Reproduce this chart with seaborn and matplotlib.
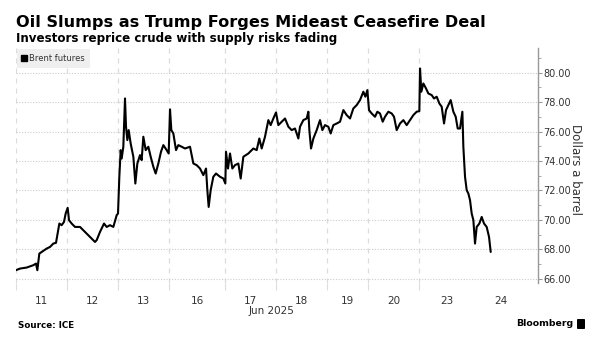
import numpy as np
import pandas as pd
import matplotlib
matplotlib.use("Agg")
import matplotlib.pyplot as plt
import seaborn as sns
from matplotlib.ticker import FixedLocator, MultipleLocator, FuncFormatter
from matplotlib.lines import Line2D
from matplotlib.patches import FancyBboxPatch

# ---- data -------------------------------------------------------------
day_labels = ["11", "12", "13", "16", "17", "18", "19", "20", "23", "24"]
session_hours = [22, 22, 22, 24, 22, 22, 17.5, 22, 24, 22]

# trading-session hours since the open of 11 Jun
hours = [0.0, 1.72, 4.59, 7.46, 8.61, 9.18, 10.04, 11.04, 13.20, 14.63, 16.06, 17.21,
         18.65, 19.65, 20.65, 21.37, 22.23, 22.81, 23.95, 25.39, 27.54, 29.69, 31.84,
         33.99, 34.71, 36.14, 37.87, 39.01, 40.45, 41.88, 43.32, 43.89,
         44.46, 45.04, 45.47, 46.18, 46.90, 47.33, 47.91, 48.48, 49.34, 50.49, 51.35,
         52.21, 53.36, 54.07, 54.79, 55.80, 56.94, 57.95, 59.09, 60.10, 61.24, 62.39,
         63.40, 64.83, 65.69,
         66.27, 66.84, 67.70, 68.85, 69.85, 71.29, 72.72, 74.87, 76.31, 77.74, 79.17,
         80.61, 81.76, 82.33, 82.90, 83.76, 84.91, 86.06, 87.78, 89.21, 90.07,
         90.36, 91.22, 92.08, 93.09, 94.23, 95.67, 96.67, 97.82, 99.97, 102.12, 103.56,
         104.70, 105.71, 107.14, 108.58, 109.58, 110.73, 111.88,
         112.88, 114.32, 115.75, 117.19, 118.62, 120.05, 121.49, 122.20, 123.64, 125.07,
         125.79, 126.22, 126.94, 127.95, 129.38, 130.81, 131.82, 132.96,
         134.39, 135.40, 136.55, 137.98, 139.42, 140.85, 142.28, 143.72, 145.15, 146.59,
         148.02, 149.45, 150.32, 151.18,
         151.89, 153.04, 154.48, 155.48, 156.63, 157.78, 158.78, 160.21, 161.65, 162.65,
         163.80, 165.23, 166.67, 168.10, 169.54, 170.97, 172.40, 173.55,
         173.84, 174.41, 175.27, 176.42, 177.42, 178.86, 179.86, 181.01, 182.16, 183.16,
         184.17, 185.03, 186.03, 187.03, 188.18, 189.19, 190.05, 191.05, 192.06, 192.48,
         193.20, 193.92, 194.64, 195.35, 196.07, 196.79,
         197.50, 198.22, 199.37, 200.37, 201.38, 202.52, 203.53, 204.25]

brent = [66.58, 66.69, 66.76, 66.92, 67.03, 66.58, 67.71, 67.82, 68.05, 68.16, 68.39, 68.44,
         69.75, 69.64, 69.86, 70.43, 70.82, 69.98, 69.75, 69.52, 69.52, 69.18, 68.84,
         68.50, 68.62, 69.18, 69.75, 69.52, 69.64, 69.52, 70.32, 70.43,
         72.93, 74.74, 74.17, 74.97, 78.25, 76.33, 75.42, 76.10, 75.19, 74.29, 72.47,
         73.83, 74.40, 74.06, 75.65, 74.74, 74.97, 74.29, 73.61, 73.15, 73.83, 74.63,
         75.08, 74.74, 74.51,
         77.51, 76.10, 75.87, 74.74, 75.08, 74.97, 74.85, 74.97, 73.83, 73.72, 73.49,
         73.04, 73.49, 72.02, 70.88, 72.02, 72.93, 73.15, 72.93, 72.81, 72.47,
         74.63, 73.49, 74.51, 73.49, 73.72, 73.83, 72.81, 74.29, 74.51, 74.85, 74.74,
         75.53, 74.85, 75.65, 76.78, 76.44, 76.89, 77.30,
         76.44, 76.67, 76.89, 76.33, 76.10, 76.21, 75.53, 76.33, 76.78, 76.89,
         77.35, 76.10, 74.85, 75.53, 76.10, 76.78, 76.10, 76.44,
         76.33, 75.87, 76.44, 76.55, 76.67, 77.46, 77.12, 76.89, 77.57, 77.80,
         78.14, 78.71, 78.37, 78.82,
         77.46, 77.23, 77.01, 77.35, 77.23, 76.67, 77.01, 77.35, 77.23, 77.01,
         76.10, 76.55, 76.78, 76.44, 76.78, 77.12, 77.35, 77.39,
         80.29, 78.71, 79.27, 78.93, 78.59, 78.48, 78.25, 78.37, 77.91, 77.69,
         76.55, 77.46, 77.80, 78.14, 77.35, 77.01, 76.21, 76.21, 77.35, 74.97,
         72.93, 72.02, 71.79, 71.34, 70.43, 69.98,
         68.39, 69.52, 69.75, 70.20, 69.75, 69.52, 68.84, 67.82]

title = "Oil Slumps as Trump Forges Mideast Ceasefire Deal"
subtitle = "Investors reprice crude with supply risks fading"
series_name = "Brent futures"
y_label = "Dollars a barrel"
x_label = "Jun 2025"
source = "Source: ICE"

# ---- figure -----------------------------------------------------------
sns.set_theme(style="white")
plt.rcParams['font.family'] = ['DejaVu Sans']

W, H = 601, 339
fig = plt.figure(figsize=(W / 100, H / 100), dpi=100)
fig.patch.set_facecolor("white")
ax = fig.add_axes([16 / W, 1 - 283 / H, (538 - 16) / W, (283 - 48) / H])
ax.set_facecolor("white")

df = pd.DataFrame({"hours": hours, "price": brent})
sns.lineplot(data=df, x="hours", y="price", color="black", linewidth=1.5, ax=ax,
             legend=False)

bounds = np.concatenate([[0], np.cumsum(session_hours)])
centers = (bounds[:-1] + bounds[1:]) / 2

ax.set_xlim(0, 224.6)
ax.set_ylim(65.71, 81.68)

ax.set_xticks(centers)
ax.set_xticklabels(day_labels)
ax.xaxis.set_minor_locator(FixedLocator(bounds[:-2]))
ax.tick_params(axis='x', which='major', bottom=True, length=0, labelsize=7.5,
               labelcolor='#333333', pad=9)
ax.tick_params(axis='x', which='minor', bottom=True, length=5, width=0.8,
               color='#dddddd')
ax.grid(False)
ax.grid(which='minor', axis='x', color='#dcdcdc', linestyle=(0, (4, 4)), linewidth=0.9)

ax.yaxis.tick_right()
ax.yaxis.set_major_locator(MultipleLocator(2))
ax.yaxis.set_minor_locator(MultipleLocator(1))
ax.yaxis.set_major_formatter(FuncFormatter(lambda v, p: f"{v:.2f}"))
ax.grid(which='major', axis='y', color='#cccccc', linestyle=(0, (1, 1.5)), linewidth=0.8)
ax.tick_params(axis='y', which='major', right=True, left=False, length=3, width=0.8,
               color='#999999', labelsize=7, labelcolor='#333333', pad=1)
ax.tick_params(axis='y', which='minor', right=True, left=False, length=2, width=0.6,
               color='#999999')
for s in ['left', 'top', 'bottom']:
    ax.spines[s].set_visible(False)
ax.spines['right'].set_color('#999999')
ax.spines['right'].set_linewidth(1.0)

ax.set_ylabel(y_label, rotation=270, fontsize=8.5, color='#333333')
ax.yaxis.set_label_position('right')
ax.yaxis.label.set_verticalalignment('center')
ax.yaxis.label.set_horizontalalignment('center')
ax.yaxis.set_label_coords((576 - 16) / 522, (283 - 169) / 235)

ax.set_xlabel(x_label, fontsize=7.5, color='#333333', va='center')
ax.xaxis.set_label_coords((272 - 16) / 522, (283 - 311) / 235)

handle = Line2D([], [], marker='s', color='black', linestyle='none', markersize=4.5)
leg = ax.legend([handle], [series_name], loc='upper left', bbox_to_anchor=(0, 1),
                frameon=True, facecolor='#efefef', edgecolor='none', fancybox=False,
                fontsize=6, handlelength=0.6, handletextpad=0.3, borderpad=0.6,
                borderaxespad=0.1, framealpha=1)
for t in leg.get_texts():
    t.set_color('#333333')

t_title = fig.text(16 / W, 1 - 27 / H, title, fontsize=12, fontweight='bold',
                   color='black', ha='left', va='baseline')
t_sub = fig.text(16 / W, 1 - 42 / H, subtitle, fontsize=9, fontweight='bold',
                 color='black', ha='left', va='baseline')
t_src = fig.text(18 / W, 1 - 325 / H, source, fontsize=6.5, fontweight='bold',
                 color='black', ha='left', va='center')
t_bb = fig.text(573 / W, 1 - 324 / H, "Bloomberg", fontsize=8, fontweight='bold',
                color='black', ha='right', va='center')

fig.canvas.draw()
r = fig.canvas.get_renderer()


def fit(t, target):
    w = t.get_window_extent(r).width
    t.set_fontsize(t.get_fontsize() * target / w)


fit(t_title, 467)
fit(t_sub, 319)
fit(t_src, 56)
fit(t_bb, 57)

logo = FancyBboxPatch((577 / W, 1 - 329 / H), 8 / W, 10 / H,
                      boxstyle="round,pad=0,rounding_size=0.002",
                      transform=fig.transFigure, facecolor='black', edgecolor='none')
fig.patches.append(logo)

fig.savefig("out.png", dpi=100, facecolor="white")
